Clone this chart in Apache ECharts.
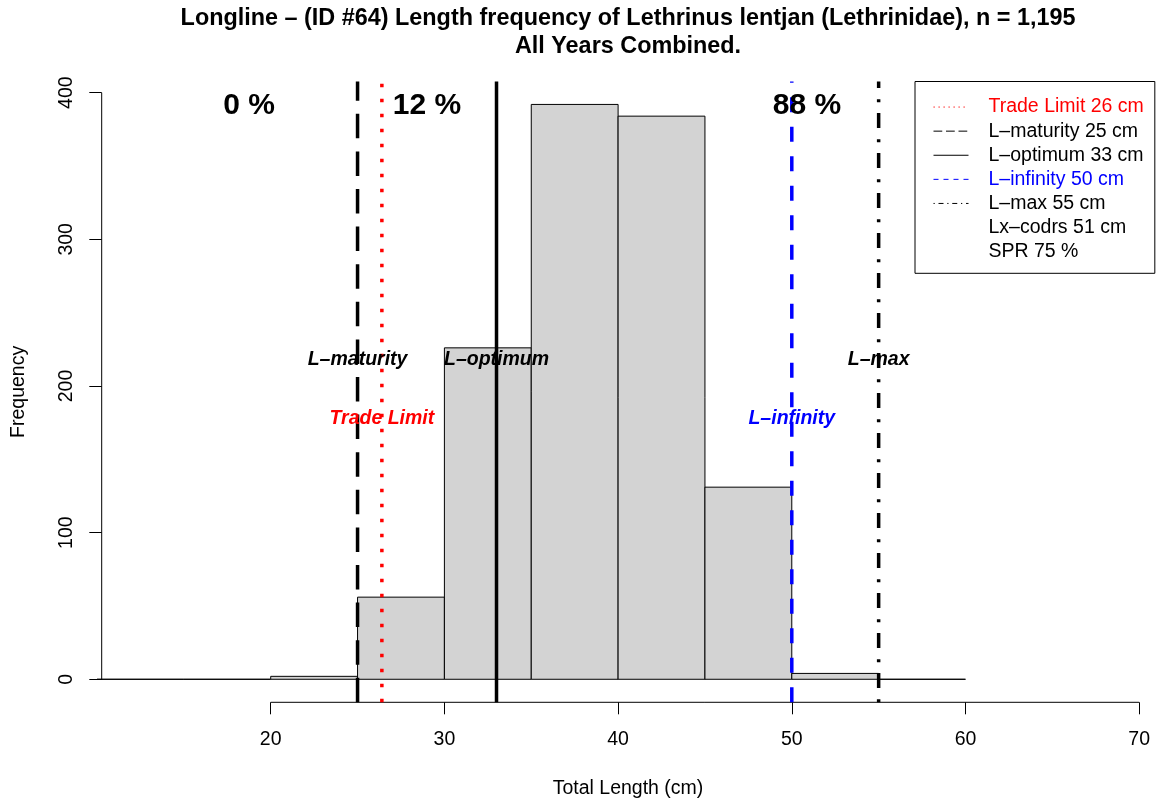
<!DOCTYPE html>
<html>
<head>
<meta charset="utf-8">
<script src="https://cdn.jsdelivr.net/npm/echarts@6/dist/echarts.min.js"></script>
<style>
html,body{margin:0;padding:0;background:#fff;}
#chart{width:1161px;height:803px;}
</style>
</head>
<body>
<div id="chart"></div>
<script>
// ---- data ----
const BIN_EDGES = [10, 15, 20, 25, 30, 35, 40, 45, 50, 55, 60];
const BIN_COUNTS = [0, 0, 2, 56, 226, 392, 384, 131, 4, 0];
const X_TICKS = [20, 30, 40, 50, 60, 70];
const Y_TICKS = [0, 100, 200, 300, 400];
const X_RANGE = [10.27, 70.87];
const Y_RANGE = [-15.7, 407.7];
const REF_NAMES = ['Trade Limit 26 cm', 'L–maturity 25 cm', 'L–optimum 33 cm', 'L–infinity 50 cm', 'L–max 55 cm'];
const REF_X = [26.4, 25, 33, 50, 55];
const REF_LABELS = ['Trade Limit', 'L–maturity', 'L–optimum', 'L–infinity', 'L–max'];
const REF_LABEL_Y = [178, 218, 218, 178, 218];
const EXTRA_LEGEND = ['Lx–codrs 51 cm', 'SPR 75 %'];
const PCT_LABELS = ['0 %', '12 %', '88 %'];
const PCT_X = [18.75, 29, 50.87];
const PCT_Y = [391, 391, 391];
const TITLE = 'Longline – (ID #64) Length frequency of Lethrinus lentjan (Lethrinidae), n = 1,195\nAll Years Combined.';
const X_NAME = 'Total Length (cm)';
const Y_NAME = 'Frequency';

// ---- styles ----
const FONT = '"Liberation Sans", Arial, sans-serif';
const REF_COLORS = ['#FF0000', '#000000', '#000000', '#0000FF', '#000000'];
const REF_DASH = [[3.5, 11.5], [24.5, 13.1], 'solid', [15, 14.5], [3, 11.3, 15, 10.7]];
const LEG_DASH = [[1.25, 3.75], [8.75, 3.75], 'solid', [5, 5], [1.25, 3.75, 5, 3.75]];

const chart = echarts.init(document.getElementById('chart'), null, {renderer: 'canvas'});

const histData = BIN_COUNTS.map((c, i) => [BIN_EDGES[i], BIN_EDGES[i + 1], c]);

const series = [];
series.push({
  type: 'custom', name: 'hist', silent: true, z: 2,
  data: histData,
  renderItem: function (params, api) {
    const p0 = api.coord([api.value(0), 0]);
    const p1 = api.coord([api.value(1), api.value(2)]);
    return {type: 'rect', shape: {x: p0[0], y: p1[1], width: p1[0] - p0[0], height: p0[1] - p1[1]},
      style: {fill: '#D3D3D3', stroke: '#000', lineWidth: 1}};
  }
});
// axis lines (R style: from first to last tick)
series.push({type: 'line', name: 'xaxisline', silent: true, clip: false, symbol: 'none', z: 3,
  data: [[X_TICKS[0], Y_RANGE[0]], [X_TICKS[X_TICKS.length - 1], Y_RANGE[0]]],
  lineStyle: {color: '#000', width: 1}});
series.push({type: 'line', name: 'yaxisline', silent: true, clip: false, symbol: 'none', z: 3,
  data: [[X_RANGE[0], Y_TICKS[0]], [X_RANGE[0], Y_TICKS[Y_TICKS.length - 1]]],
  lineStyle: {color: '#000', width: 1}});
// reference vertical lines
REF_NAMES.forEach((nm, i) => {
  series.push({type: 'line', name: nm, silent: true, clip: false, symbol: 'none', z: 5,
    color: REF_COLORS[i],
    data: [[REF_X[i], Y_RANGE[0]], [REF_X[i], Y_RANGE[1]]],
    lineStyle: {color: REF_COLORS[i], width: 3.5, type: REF_DASH[i], cap: 'butt'}});
});
EXTRA_LEGEND.forEach(nm => {
  series.push({type: 'line', name: nm, silent: true, symbol: 'none', data: [], color: '#000'});
});
// italic labels at reference lines
series.push({type: 'custom', name: 'reflabels', silent: true, z: 10,
  data: REF_X.map((x, i) => [x, REF_LABEL_Y[i]]),
  renderItem: function (params, api) {
    const pt = api.coord([api.value(0), api.value(1)]);
    return {type: 'text', x: pt[0], y: pt[1], z2: 10,
      style: {text: REF_LABELS[params.dataIndex], fill: REF_COLORS[params.dataIndex],
        font: 'italic bold 19.5px ' + FONT, align: 'center', verticalAlign: 'middle'}};
  }
});
// percent labels
series.push({type: 'custom', name: 'pct', silent: true, z: 10,
  data: PCT_X.map((x, i) => [x, PCT_Y[i]]),
  renderItem: function (params, api) {
    const pt = api.coord([api.value(0), api.value(1)]);
    return {type: 'text', x: pt[0], y: pt[1], z2: 10,
      style: {text: PCT_LABELS[params.dataIndex], fill: '#000',
        font: 'bold 30px ' + FONT, align: 'center', verticalAlign: 'middle'}};
  }
});

const legendData = REF_NAMES.map((nm, i) => ({
  name: nm,
  itemStyle: {opacity: 0},
  lineStyle: {width: 1, type: LEG_DASH[i], color: REF_COLORS[i], opacity: 1},
  textStyle: {color: REF_COLORS[i]}
})).concat(EXTRA_LEGEND.map(nm => ({name: nm, icon: 'none', textStyle: {color: '#000'}})));

const option = {
  animation: false,
  backgroundColor: '#fff',
  title: {
    text: TITLE, left: 628, top: 4.5, textAlign: 'center', padding: 0,
    textStyle: {fontFamily: FONT, fontSize: 23.4, fontWeight: 'bold', color: '#000', lineHeight: 28}
  },
  legend: {
    orient: 'vertical', left: 915, top: 81.5,
    padding: [13.5, 11, 9.6, 18],
    itemGap: 0, itemWidth: 35, itemHeight: 14,
    borderColor: '#000', borderWidth: 1, borderRadius: 0,
    selectedMode: false,
    textStyle: {fontFamily: FONT, fontSize: 19.5, lineHeight: 24.1, color: '#000', padding: [0, 0, 0, 15]},
    data: legendData
  },
  grid: {left: 101.7, top: 81.4, width: 1052.6, height: 620.9, containLabel: false, outerBoundsMode: 'none'},
  xAxis: {
    type: 'value', min: X_RANGE[0], max: X_RANGE[1],
    name: X_NAME, nameLocation: 'middle', nameGap: 76,
    nameTextStyle: {fontFamily: FONT, fontSize: 19.5, color: '#000'},
    axisLine: {show: false, onZero: false},
    axisTick: {show: true, customValues: X_TICKS, length: 12, lineStyle: {color: '#000', width: 1}},
    axisLabel: {show: true, customValues: X_TICKS, margin: 27, fontFamily: FONT, fontSize: 19.5, color: '#000',
      showMinLabel: true, showMaxLabel: true, hideOverlap: false},
    splitLine: {show: false}
  },
  yAxis: {
    type: 'value', min: Y_RANGE[0], max: Y_RANGE[1],
    name: Y_NAME, nameLocation: 'middle', nameGap: 72.7, nameRotate: 90,
    nameTextStyle: {fontFamily: FONT, fontSize: 19.5, color: '#000'},
    axisLine: {show: false, onZero: false},
    axisTick: {show: true, customValues: Y_TICKS, length: 12.4, lineStyle: {color: '#000', width: 1}},
    axisLabel: {show: true, customValues: Y_TICKS, rotate: 90, margin: 24.7, fontFamily: FONT, fontSize: 19.5, color: '#000',
      showMinLabel: true, showMaxLabel: true, hideOverlap: false},
    splitLine: {show: false}
  },
  series: series
};
chart.setOption(option);
</script>
</body>
</html>
